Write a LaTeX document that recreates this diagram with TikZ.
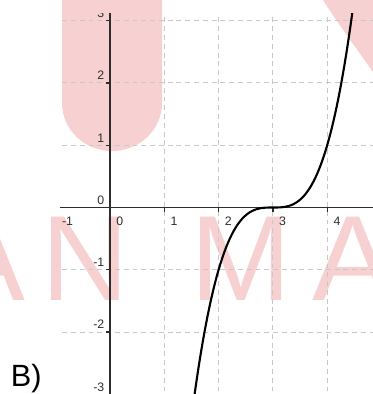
\documentclass[tikz,border=0pt]{standalone}
\usepackage{fontspec}
\setmainfont{Liberation Sans}
\definecolor{wmpink}{RGB}{247,208,210}
\definecolor{gridgray}{RGB}{200,200,200}
\definecolor{axisgray}{RGB}{45,45,45}

\begin{document}
\begin{tikzpicture}[x=1.086cm, y=1.246cm]
    %
    \useasboundingbox (-2.2cm,4.15cm) rectangle (5.26cm,-3.73cm);
    \tikzset{gridline/.style={gridgray, line width=0.55pt, dash pattern=on 2.8pt off 2.2pt},
             axisline/.style={axisgray, line width=0.75pt},
             ticklab/.style={font=\fontsize{7}{8}\selectfont, text=axisgray, inner sep=0pt},
             wmtext/.style={font=\fontsize{69}{70}\selectfont, text=wmpink, inner sep=0pt, anchor=base},
             curve/.style={black, line width=1.2pt, line cap=round}}

    %
    \begin{scope}[shift={(-2.2cm,4.15cm)}, x=0.02cm, y=0.02cm]
        \fill[wmpink] (62,5) -- (62,-103) arc[start angle=180, end angle=360, x radius=50, y radius=48] -- (162,5) -- cycle;
        \fill[wmpink] (323,5) -- (323,0) .. controls (334,-18) and (356,-48) .. (373,-72) -- (378,-72) -- (378,5) -- cycle;
        \node[wmtext] (wmA) at (-15,-300) {A};
        \node[wmtext] (wmN) at (85,-300) {N};
        \node[wmtext] (wmM) at (241,-300) {M};
        \node[wmtext] (wmAA) at (353,-300) {A};
    \end{scope}

    %
    \begin{scope}
        \clip (-2.1,-3.1) rectangle (4.9,3.12);
        \foreach \y in {-2,-1,1,2,3}
            \draw[gridline] (-0.88,\y) -- (4.9,\y);
        \foreach \x in {1,...,4}
            \draw[gridline] (\x,3.05) -- (\x,-3.1);

        %
        \draw[axisline] (-0.92,0) -- (4.9,0);
        \draw[axisline] (0,3.12) -- (0,-3.1);
        \foreach \x in {1,...,4}
            \draw[axisline] (\x,0) -- (\x,-0.07);
        \foreach \y in {-3,...,3}
            \draw[axisline] (0,\y) -- (-0.07,\y);

        %
        \foreach \x in {-1,...,4}
            \node[ticklab, anchor=north west] (xlab\x) at (\x+0.11,-0.15) {\x};
        \foreach \y in {-3,...,3}
            \node[ticklab, anchor=south east] (ylab\y) at (-0.1,\y+0.045) {\y};

        %
        \draw[curve] plot[domain=1.55:4.461, samples=120, smooth] (\x,{(\x-3)*(\x-3)*(\x-3)});
    \end{scope}

    %
    \node[font=\fontsize{17.5}{20}\selectfont, anchor=base west, inner sep=0pt] (lblB) at (-1.832,-2.881) {B)};

\end{tikzpicture}
\end{document}
